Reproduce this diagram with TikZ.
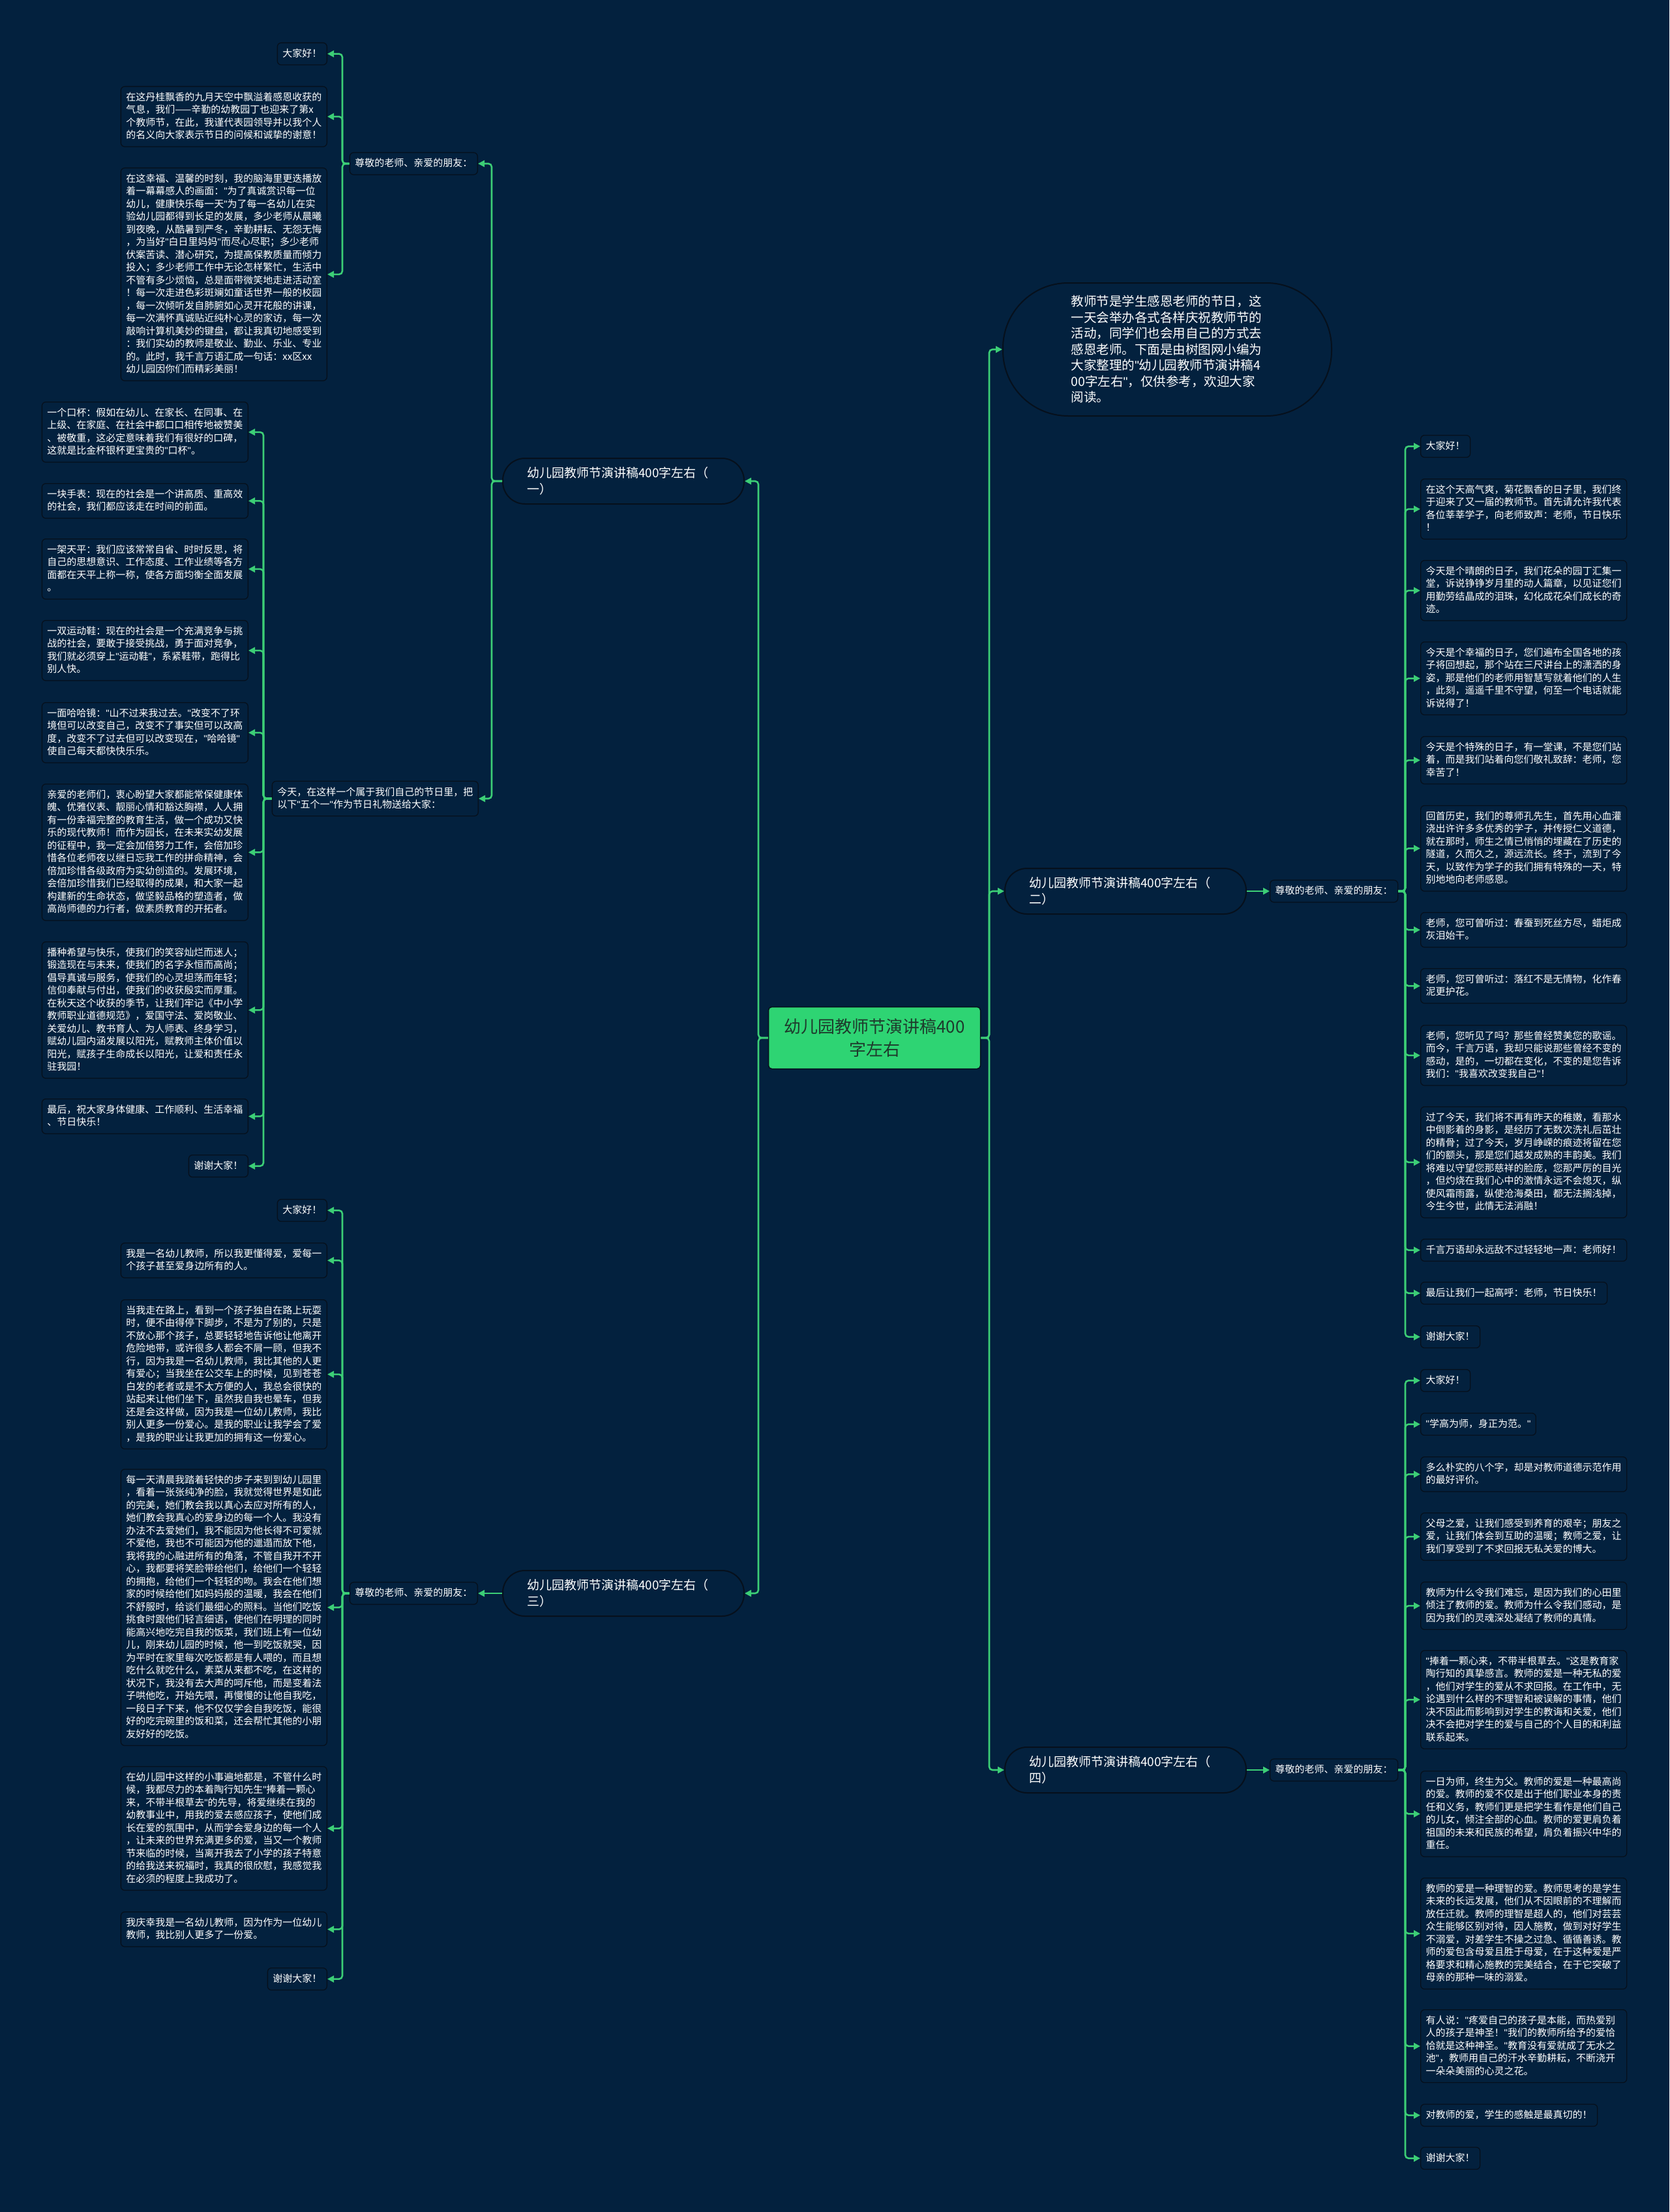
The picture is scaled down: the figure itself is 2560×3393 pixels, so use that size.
\documentclass[tikz,border=0pt]{standalone}
\usepackage{fontspec}
\setmainfont{Noto Sans CJK SC}
\newfontfamily\latf{Liberation Sans}
\newcommand\qq{{\latf"}}
\usetikzlibrary{arrows.meta}
\definecolor{bgc}{RGB}{3,33,62}
\definecolor{bordc}{RGB}{6,16,28}
\definecolor{lineg}{RGB}{60,206,118}
\definecolor{rootg}{RGB}{46,212,115}
\definecolor{roott}{RGB}{30,58,44}
\tikzset{
  box/.style={draw=bordc, line width=1.3pt, fill=bgc, rounded corners=6pt, text=white,
    font=\fontsize{15}{19.5}\selectfont, inner xsep=8pt, inner ysep=8.2pt, align=left,
    execute at begin node={\rule{0pt}{13.5pt}}, execute at end node={\rule[-4pt]{0pt}{4pt}}},
  wide/.style={box, text width=300pt},
  topic/.style={draw=bordc, line width=2pt, fill=bgc, rounded corners=34pt, text=white,
    font=\fontsize{19}{25}\selectfont, align=left, text width=296pt, inner xsep=37pt,
    minimum height=70pt},
  intro/.style={draw=bordc, line width=2pt, fill=bgc, rounded corners=100pt, text=white,
    font=\fontsize{19.5}{24.5}\selectfont, align=left, text width=295pt, inner xsep=104.5pt,
    minimum height=204pt},
  rootbox/.style={draw=bordc, line width=1.5pt, fill=rootg, rounded corners=5pt, text=roott,
    font=\fontsize{26}{35}\selectfont, align=center, minimum width=325pt, minimum height=95pt},
  conn/.style={draw=lineg, line width=2.6pt, rounded corners=5pt, -{Triangle[length=10pt,width=10pt]}}
}
\begin{document}
\begin{tikzpicture}[x=1pt,y=-1pt]
\useasboundingbox (0,0) rectangle (2560,3393);
\fill[bgc] (0,0) rectangle (2560,3393);

\coordinate (vL) at (1163,0);
\coordinate (vR) at (1517,0);
\coordinate (v1) at (754,0);
\coordinate (va1) at (525,0);
\coordinate (va2) at (404,0);
\coordinate (vb) at (525,0);
\coordinate (vc) at (2155,0);
\coordinate (vd) at (2155,0);

% root and topics
\node[rootbox] (root) at (1341,1592) {幼儿园教师节演讲稿400\\字左右};
\node[topic] (n1) at (956,738) {幼儿园教师节演讲稿400字左右（\\一）};
\node[topic] (n3) at (956,2444) {幼儿园教师节演讲稿400字左右（\\三）};
\node[topic] (n2) at (1726,1367) {幼儿园教师节演讲稿400字左右（\\二）};
\node[topic] (n4) at (1726,2715) {幼儿园教师节演讲稿400字左右（\\四）};
\node[intro] (in) at (1790,536) {教师节是学生感恩老师的节日，这\\一天会举办各式各样庆祝教师节的\\活动，同学们也会用自己的方式去\\感恩老师。下面是由树图网小编为\\大家整理的\qq{}幼儿园教师节演讲稿4\\00字左右\qq{}，仅供参考，欢迎大家\\阅读。};

% group one labels
\node[box, anchor=east] (a1) at (733,251) {尊敬的老师、亲爱的朋友：};
\node[wide, anchor=east] (a2) at (734,1225) {今天，在这样一个属于我们自己的节日里，把\\以下\qq{}五个一\qq{}作为节日礼物送给大家：};

% group one, first sub
\node[box, anchor=north east] (a1l1) at (502,65) {大家好！};
\node[wide, anchor=north east] (a1l2) at (502,132) {在这丹桂飘香的九月天空中飘溢着感恩收获的\\气息，我们——辛勤的幼教园丁也迎来了第x\\个教师节，在此，我谨代表园领导并以我个人\\的名义向大家表示节日的问候和诚挚的谢意！};
\node[wide, anchor=north east] (a1l3) at (502,257) {在这幸福、温馨的时刻，我的脑海里更迭播放\\着一幕幕感人的画面：\qq{}为了真诚赏识每一位\\幼儿，健康快乐每一天\qq{}为了每一名幼儿在实\\验幼儿园都得到长足的发展，多少老师从晨曦\\到夜晚，从酷暑到严冬，辛勤耕耘、无怨无悔\\，为当好\qq{}白日里妈妈\qq{}而尽心尽职；多少老师\\伏案苦读、潜心研究，为提高保教质量而倾力\\投入；多少老师工作中无论怎样繁忙，生活中\\不管有多少烦恼，总是面带微笑地走进活动室\\！每一次走进色彩斑斓如童话世界一般的校园\\，每一次倾听发自肺腑如心灵开花般的讲课，\\每一次满怀真诚贴近纯朴心灵的家访，每一次\\敲响计算机美妙的键盘，都让我真切地感受到\\：我们实幼的教师是敬业、勤业、乐业、专业\\的。此时，我千言万语汇成一句话：xx区xx\\幼儿园因你们而精彩美丽！};

% group one, second sub
\node[wide, anchor=north east] (a2l1) at (381,616) {一个口杯：假如在幼儿、在家长、在同事、在\\上级、在家庭、在社会中都口口相传地被赞美\\、被敬重，这必定意味着我们有很好的口碑，\\这就是比金杯银杯更宝贵的\qq{}口杯\qq{}。};
\node[wide, anchor=north east] (a2l2) at (381,741) {一块手表：现在的社会是一个讲高质、重高效\\的社会，我们都应该走在时间的前面。};
\node[wide, anchor=north east] (a2l3) at (381,826) {一架天平：我们应该常常自省、时时反思，将\\自己的思想意识、工作态度、工作业绩等各方\\面都在天平上称一称，使各方面均衡全面发展\\。};
\node[wide, anchor=north east] (a2l4) at (381,951) {一双运动鞋：现在的社会是一个充满竞争与挑\\战的社会，要敢于接受挑战，勇于面对竞争，\\我们就必须穿上\qq{}运动鞋\qq{}，系紧鞋带，跑得比\\别人快。};
\node[wide, anchor=north east] (a2l5) at (381,1077) {一面哈哈镜：\qq{}山不过来我过去。\qq{}改变不了环\\境但可以改变自己，改变不了事实但可以改高\\度，改变不了过去但可以改变现在，\qq{}哈哈镜\qq{}\\使自己每天都快快乐乐。};
\node[wide, anchor=north east] (a2l6) at (381,1202) {亲爱的老师们，衷心盼望大家都能常保健康体\\魄、优雅仪表、靓丽心情和豁达胸襟，人人拥\\有一份幸福完整的教育生活，做一个成功又快\\乐的现代教师！而作为园长，在未来实幼发展\\的征程中，我一定会加倍努力工作，会倍加珍\\惜各位老师夜以继日忘我工作的拼命精神，会\\倍加珍惜各级政府为实幼创造的。发展环境，\\会倍加珍惜我们已经取得的成果，和大家一起\\构建新的生命状态，做坚毅品格的塑造者，做\\高尚师德的力行者，做素质教育的开拓者。};
\node[wide, anchor=north east] (a2l7) at (381,1444) {播种希望与快乐，使我们的笑容灿烂而迷人；\\锻造现在与未来，使我们的名字永恒而高尚；\\倡导真诚与服务，使我们的心灵坦荡而年轻；\\信仰奉献与付出，使我们的收获殷实而厚重。\\在秋天这个收获的季节，让我们牢记《中小学\\教师职业道德规范》，爱国守法、爱岗敬业、\\关爱幼儿、教书育人、为人师表、终身学习，\\赋幼儿园内涵发展以阳光，赋教师主体价值以\\阳光，赋孩子生命成长以阳光，让爱和责任永\\驻我园！};
\node[wide, anchor=north east] (a2l8) at (381,1685) {最后，祝大家身体健康、工作顺利、生活幸福\\、节日快乐！};
\node[box, anchor=north east] (a2l9) at (381,1771) {谢谢大家！};

% group three
\node[box, anchor=east] (b1) at (733,2444) {尊敬的老师、亲爱的朋友：};
\node[box, anchor=north east] (b1l1) at (502,1839) {大家好！};
\node[wide, anchor=north east] (b1l2) at (502,1906) {我是一名幼儿教师，所以我更懂得爱，爱每一\\个孩子甚至爱身边所有的人。};
\node[wide, anchor=north east] (b1l3) at (502,1993) {当我走在路上，看到一个孩子独自在路上玩耍\\时，便不由得停下脚步，不是为了别的，只是\\不放心那个孩子，总要轻轻地告诉他让他离开\\危险地带，或许很多人都会不屑一顾，但我不\\行，因为我是一名幼儿教师，我比其他的人更\\有爱心；当我坐在公交车上的时候，见到苍苍\\白发的老者或是不太方便的人，我总会很快的\\站起来让他们坐下，虽然我自我也晕车，但我\\还是会这样做，因为我是一位幼儿教师，我比\\别人更多一份爱心。是我的职业让我学会了爱\\，是我的职业让我更加的拥有这一份爱心。};
\node[wide, anchor=north east] (b1l4) at (502,2253) {每一天清晨我踏着轻快的步子来到到幼儿园里\\，看着一张张纯净的脸，我就觉得世界是如此\\的完美，她们教会我以真心去应对所有的人，\\她们教会我真心的爱身边的每一个人。我没有\\办法不去爱她们，我不能因为他长得不可爱就\\不爱他，我也不可能因为他的邋遢而放下他，\\我将我的心融进所有的角落，不管自我开不开\\心，我都要将笑脸带给他们，给他们一个轻轻\\的拥抱，给他们一个轻轻的吻。我会在他们想\\家的时候给他们如妈妈般的温暖，我会在他们\\不舒服时，给谈们最细心的照料。当他们吃饭\\挑食时跟他们轻言细语，使他们在明理的同时\\能高兴地吃完自我的饭菜，我们班上有一位幼\\儿，刚来幼儿园的时候，他一到吃饭就哭，因\\为平时在家里每次吃饭都是有人喂的，而且想\\吃什么就吃什么，素菜从来都不吃，在这样的\\状况下，我没有去大声的呵斥他，而是变着法\\子哄他吃，开始先喂，再慢慢的让他自我吃，\\一段日子下来，他不仅仅学会自我吃饭，能很\\好的吃完碗里的饭和菜，还会帮忙其他的小朋\\友好好的吃饭。};
\node[wide, anchor=north east] (b1l5) at (502,2709) {在幼儿园中这样的小事遍地都是，不管什么时\\候，我都尽力的本着陶行知先生\qq{}捧着一颗心\\来，不带半根草去\qq{}的先导，将爱继续在我的\\幼教事业中，用我的爱去感应孩子，使他们成\\长在爱的氛围中，从而学会爱身边的每一个人\\，让未来的世界充满更多的爱，当又一个教师\\节来临的时候，当离开我去了小学的孩子特意\\的给我送来祝福时，我真的很欣慰，我感觉我\\在必须的程度上我成功了。};
\node[wide, anchor=north east] (b1l6) at (502,2932) {我庆幸我是一名幼儿教师，因为作为一位幼儿\\教师，我比别人更多了一份爱。};
\node[box, anchor=north east] (b1l7) at (502,3018) {谢谢大家！};

% group two
\node[box, anchor=west] (c1) at (1947,1367) {尊敬的老师、亲爱的朋友：};
\node[box, anchor=north west] (c1l1) at (2178,667) {大家好！};
\node[wide, anchor=north west] (c1l2) at (2178,734) {在这个天高气爽，菊花飘香的日子里，我们终\\于迎来了又一届的教师节。首先请允许我代表\\各位莘莘学子，向老师致声：老师，节日快乐\\！};
\node[wide, anchor=north west] (c1l3) at (2178,859) {今天是个晴朗的日子，我们花朵的园丁汇集一\\堂，诉说铮铮岁月里的动人篇章，以见证您们\\用勤劳结晶成的泪珠，幻化成花朵们成长的奇\\迹。};
\node[wide, anchor=north west] (c1l4) at (2178,984) {今天是个幸福的日子，您们遍布全国各地的孩\\子将回想起，那个站在三尺讲台上的潇洒的身\\姿，那是他们的老师用智慧写就着他们的人生\\，此刻，遥遥千里不守望，何至一个电话就能\\诉说得了！};
\node[wide, anchor=north west] (c1l5) at (2178,1129) {今天是个特殊的日子，有一堂课，不是您们站\\着，而是我们站着向您们敬礼致辞：老师，您\\幸苦了！};
\node[wide, anchor=north west] (c1l6) at (2178,1235) {回首历史，我们的尊师孔先生，首先用心血灌\\浇出许许多多优秀的学子，并传授仁义道德，\\就在那时，师生之情已悄悄的埋藏在了历史的\\隧道，久而久之，源远流长。终于，流到了今\\天，以致作为学子的我们拥有特殊的一天，特\\别地地向老师感恩。};
\node[wide, anchor=north west] (c1l7) at (2178,1399) {老师，您可曾听过：春蚕到死丝方尽，蜡炬成\\灰泪始干。};
\node[wide, anchor=north west] (c1l8) at (2178,1485) {老师，您可曾听过：落红不是无情物，化作春\\泥更护花。};
\node[wide, anchor=north west] (c1l9) at (2178,1572) {老师，您听见了吗？那些曾经赞美您的歌谣。\\而今，千言万语，我却只能说那些曾经不变的\\感动，是的，一切都在变化，不变的是您告诉\\我们：\qq{}我喜欢改变我自己\qq{}！};
\node[wide, anchor=north west] (c1l10) at (2178,1697) {过了今天，我们将不再有昨天的稚嫩，看那水\\中倒影着的身影，是经历了无数次洗礼后茁壮\\的精骨；过了今天，岁月峥嵘的痕迹将留在您\\们的额头，那是您们越发成熟的丰韵美。我们\\将难以守望您那慈祥的脸庞，您那严厉的目光\\，但灼烧在我们心中的激情永远不会熄灭，纵\\使风霜雨露，纵使沧海桑田，都无法搁浅掉，\\今生今世，此情无法消融！};
\node[wide, anchor=north west] (c1l11) at (2178,1900) {千言万语却永远敌不过轻轻地一声：老师好！};
\node[box, anchor=north west] (c1l12) at (2178,1966) {最后让我们一起高呼：老师，节日快乐！};
\node[box, anchor=north west] (c1l13) at (2178,2033) {谢谢大家！};

% group four
\node[box, anchor=west] (d1) at (1947,2715) {尊敬的老师、亲爱的朋友：};
\node[box, anchor=north west] (d1l1) at (2178,2100) {大家好！};
\node[box, anchor=north west] (d1l2) at (2178,2167) {\qq{}学高为师，身正为范。\qq{}};
\node[wide, anchor=north west] (d1l3) at (2178,2234) {多么朴实的八个字，却是对教师道德示范作用\\的最好评价。};
\node[wide, anchor=north west] (d1l4) at (2178,2320) {父母之爱，让我们感受到养育的艰辛；朋友之\\爱，让我们体会到互助的温暖；教师之爱，让\\我们享受到了不求回报无私关爱的博大。};
\node[wide, anchor=north west] (d1l5) at (2178,2426) {教师为什么令我们难忘，是因为我们的心田里\\倾注了教师的爱。教师为什么令我们感动，是\\因为我们的灵魂深处凝结了教师的真情。};
\node[wide, anchor=north west] (d1l6) at (2178,2531) {\qq{}捧着一颗心来，不带半根草去。\qq{}这是教育家\\陶行知的真挚感言。教师的爱是一种无私的爱\\，他们对学生的爱从不求回报。在工作中，无\\论遇到什么样的不理智和被误解的事情，他们\\决不因此而影响到对学生的教诲和关爱，他们\\决不会把对学生的爱与自己的个人目的和利益\\联系起来。};
\node[wide, anchor=north west] (d1l7) at (2178,2716) {一日为师，终生为父。教师的爱是一种最高尚\\的爱。教师的爱不仅是出于他们职业本身的责\\任和义务，教师们更是把学生看作是他们自己\\的儿女，倾注全部的心血。教师的爱更肩负着\\祖国的未来和民族的希望，肩负着振兴中华的\\重任。};
\node[wide, anchor=north west] (d1l8) at (2178,2880) {教师的爱是一种理智的爱。教师思考的是学生\\未来的长远发展，他们从不因眼前的不理解而\\放任迁就。教师的理智是超人的，他们对芸芸\\众生能够区别对待，因人施教，做到对好学生\\不溺爱，对差学生不操之过急、循循善诱。教\\师的爱包含母爱且胜于母爱，在于这种爱是严\\格要求和精心施教的完美结合，在于它突破了\\母亲的那种一味的溺爱。};
\node[wide, anchor=north west] (d1l9) at (2178,3082) {有人说：\qq{}疼爱自己的孩子是本能，而热爱别\\人的孩子是神圣！\qq{}我们的教师所给予的爱恰\\恰就是这种神圣。\qq{}教育没有爱就成了无水之\\池\qq{}，教师用自己的汗水辛勤耕耘，不断浇开\\一朵朵美丽的心灵之花。};
\node[box, anchor=north west] (d1l10) at (2178,3227) {对教师的爱，学生的感触是最真切的！};
\node[box, anchor=north west] (d1l11) at (2178,3293) {谢谢大家！};

% connectors: root
\draw[conn] (root.west) -- (vL |- root.west) |- (n1.east);
\draw[conn] (root.west) -- (vL |- root.west) |- (n3.east);
\draw[conn] (root.east) -- (vR |- root.east) |- (in.west);
\draw[conn] (root.east) -- (vR |- root.east) |- (n2.west);
\draw[conn] (root.east) -- (vR |- root.east) |- (n4.west);

% topic one
\draw[conn] (n1.west) -- (v1 |- n1.west) |- (a1.east);
\draw[conn] (n1.west) -- (v1 |- n1.west) |- (a2.east);
\foreach \l in {a1l1,a1l2,a1l3} {\draw[conn] (a1.west) -- (va1 |- a1.west) |- (\l.east);}
\foreach \l in {a2l1,a2l2,a2l3,a2l4,a2l5,a2l6,a2l7,a2l8,a2l9} {\draw[conn] (a2.west) -- (va2 |- a2.west) |- (\l.east);}

% topic three
\draw[conn] (n3.west) -- (b1.east);
\foreach \l in {b1l1,b1l2,b1l3,b1l4,b1l5,b1l6,b1l7} {\draw[conn] (b1.west) -- (vb |- b1.west) |- (\l.east);}

% topic two
\draw[conn] (n2.east) -- (c1.west);
\foreach \l in {c1l1,c1l2,c1l3,c1l4,c1l5,c1l6,c1l7,c1l8,c1l9,c1l10,c1l11,c1l12,c1l13} {\draw[conn] (c1.east) -- (vc |- c1.east) |- (\l.west);}

% topic four
\draw[conn] (n4.east) -- (d1.west);
\foreach \l in {d1l1,d1l2,d1l3,d1l4,d1l5,d1l6,d1l7,d1l8,d1l9,d1l10,d1l11} {\draw[conn] (d1.east) -- (vd |- d1.east) |- (\l.west);}
\end{tikzpicture}
\end{document}
